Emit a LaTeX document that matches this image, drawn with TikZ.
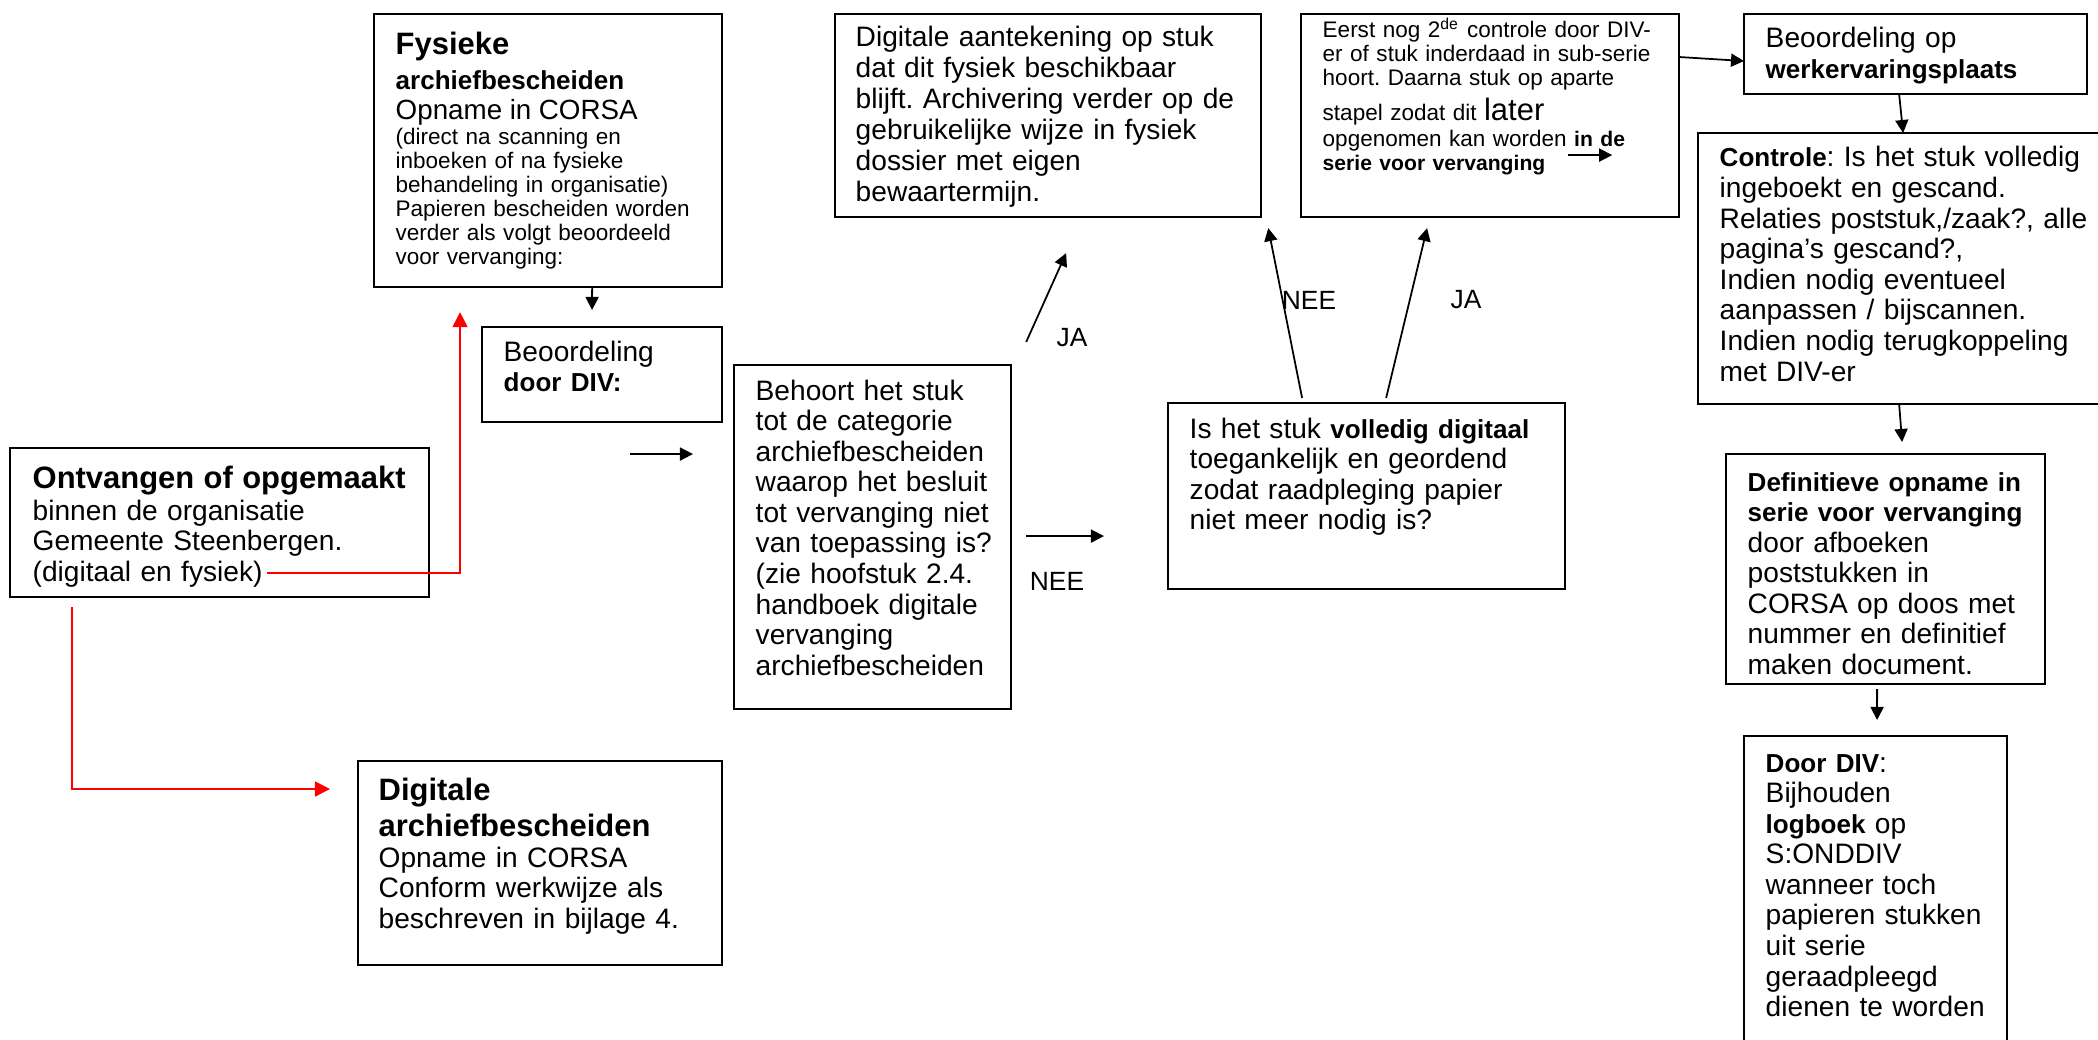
\documentclass[tikz,border=0pt]{standalone}
\usepackage{fontspec}
\setmainfont{Liberation Sans}
\usetikzlibrary{arrows.meta}
\lineskiplimit=-20pt
\frenchspacing
\newcommand{\vet}[1]{{\fontsize{7.4pt}{8pt}\selectfont\bfseries #1}}

\begin{document}
\begin{tikzpicture}[
    x=0.01cm, y=-0.01cm,
    kader/.style={draw, line width=0.55pt, anchor=north west, inner sep=0pt, outer sep=0pt},
    tekst/.style={anchor=base west, align=left, text width=4.5cm, inner sep=0pt, font=\fontsize{8pt}{8.7pt}\selectfont},
    kleintekst/.style={tekst, font=\fontsize{6.4pt}{6.8pt}\selectfont},
    keuze/.style={font=\fontsize{7.5pt}{8pt}\selectfont},
    pijl/.style={line width=0.5pt, -{Triangle[length=0.13cm, width=0.13cm]}},
    rood/.style={red, line width=0.5pt, -{Triangle[length=0.15cm, width=0.15cm]}}
]
\useasboundingbox (0,0) rectangle (2098,1040);

% Kaders
\node[kader, minimum width=3.48cm, minimum height=2.73cm] (fysiek) at (374,14) {};
\node[kader, minimum width=2.40cm, minimum height=0.95cm] (beoord) at (482,327) {};
\node[kader, minimum width=2.77cm, minimum height=3.44cm] (behoort) at (734,365) {};
\node[kader, minimum width=4.26cm, minimum height=2.03cm] (aantek) at (835,14) {};
\node[kader, minimum width=3.78cm, minimum height=2.03cm] (eerst) at (1301,14) {};
\node[kader, minimum width=3.43cm, minimum height=0.80cm] (werkerv) at (1744,14) {};
\node[kader, minimum width=4.12cm, minimum height=2.71cm] (controle) at (1698,133) {};
\node[kader, minimum width=3.97cm, minimum height=1.86cm] (volledig) at (1168,403) {};
\node[kader, minimum width=4.19cm, minimum height=1.49cm] (ontvangen) at (10,448) {};
\node[kader, minimum width=3.19cm, minimum height=2.30cm] (definitief) at (1726,454) {};
\node[kader, minimum width=2.63cm, minimum height=3.20cm] (doordiv) at (1744,736) {};
\node[kader, minimum width=3.64cm, minimum height=2.04cm] (digitaal) at (358,761) {};

% Teksten
\node[kleintekst] (fysiektekst) at ([shift={(21,41)}]fysiek.north west)
    {{\fontsize{8.8pt}{9pt}\selectfont\bfseries Fysieke}\\[0.06cm]
     \vet{archiefbescheiden}\\[0.06cm]
     {\fontsize{7.9pt}{8pt}\selectfont Opname in CORSA}\\[0.01cm]
     (direct na scanning en\\
     inboeken of na fysieke\\
     behandeling in organisatie)\\
     Papieren bescheiden worden\\
     verder als volgt beoordeeld\\
     voor vervanging:};
\node[tekst] (beoordtekst) at ([shift={(21,34)}]beoord.north west)
    {Beoordeling\\\vet{door DIV:}};
\node[tekst] (behoorttekst) at ([shift={(21,35)}]behoort.north west)
    {Behoort het stuk\\tot de categorie\\archiefbescheiden\\waarop het besluit\\tot vervanging niet\\
     van toepassing is?\\(zie hoofstuk 2.4.\\handboek digitale\\vervanging\\archiefbescheiden};
\node[tekst, font=\fontsize{8pt}{8.8pt}\selectfont] (aantektekst) at ([shift={(20,33)}]aantek.north west)
    {Digitale aantekening op stuk\\dat dit fysiek beschikbaar\\blijft. Archivering verder op de\\
     gebruikelijke wijze in fysiek\\dossier met eigen\\bewaartermijn.};
\node[kleintekst] (eersttekst) at ([shift={(21,24)}]eerst.north west)
    {Eerst nog 2\textsuperscript{de} controle door DIV-\\
     er of stuk inderdaad in sub-serie\\
     hoort. Daarna stuk op aparte\\[0.04cm]
     stapel zodat dit {\fontsize{8.8pt}{9pt}\selectfont later}\\[0.02cm]
     opgenomen kan worden {\fontsize{6pt}{6.8pt}\selectfont\bfseries in de}\\
     {\fontsize{6pt}{6.8pt}\selectfont\bfseries serie voor vervanging}};
\node[tekst] (werkervtekst) at ([shift={(21,34)}]werkerv.north west)
    {Beoordeling op\\\vet{werkervaringsplaats}};
\node[tekst] (controletekst) at ([shift={(21,34)}]controle.north west)
    {\vet{Controle}: Is het stuk volledig\\ingeboekt en gescand.\\Relaties poststuk,/zaak?, alle\\
     pagina’s gescand?,\\Indien nodig eventueel\\aanpassen / bijscannen.\\
     Indien nodig terugkoppeling\\met DIV-er};
\node[tekst] (volledigtekst) at ([shift={(21,35)}]volledig.north west)
    {Is het stuk \vet{volledig digitaal}\\toegankelijk en geordend\\zodat raadpleging papier\\niet meer nodig is?};
\node[tekst] (ontvangentekst) at ([shift={(22,40)}]ontvangen.north west)
    {{\fontsize{8.8pt}{9pt}\selectfont\bfseries Ontvangen of opgemaakt}\\[0.015cm]
     binnen de organisatie\\Gemeente Steenbergen.\\(digitaal en fysiek)};
\node[tekst] (definitieftekst) at ([shift={(21,37)}]definitief.north west)
    {\vet{Definitieve opname in}\\\vet{serie voor vervanging}\\door afboeken\\poststukken in\\
     CORSA op doos met\\nummer en definitief\\maken document.};
\node[tekst] (doordivtekst) at ([shift={(21,36)}]doordiv.north west)
    {\vet{Door DIV}:\\Bijhouden\\\vet{logboek} op\\S:ONDDIV\\wanneer toch\\papieren stukken\\
     uit serie\\geraadpleegd\\dienen te worden};
\node[tekst] (digitaaltekst) at ([shift={(20,39)}]digitaal.north west)
    {{\fontsize{8.8pt}{9pt}\selectfont\bfseries Digitale}\\[0.06cm]
     {\fontsize{8.8pt}{9pt}\selectfont\bfseries archiefbescheiden}\\
     Opname in CORSA\\Conform werkwijze als\\beschreven in bijlage 4.};

% Keuzes
\node[keuze] (ja1) at (1072,338) {JA};
\node[keuze] (nee1) at (1057,581) {NEE};
\node[keuze] (nee2) at (1309,300) {NEE};
\node[keuze] (ja2) at (1466,300) {JA};

% Rode lijnen
\draw[rood] ([xshift=2.57cm, yshift=-1.25cm]ontvangen.north west) -| ([xshift=0.86cm, yshift=-0.25cm]fysiek.south west);
\draw[rood] ([xshift=0.62cm, yshift=-0.10cm]ontvangen.south west) |- ([xshift=-0.28cm, yshift=-0.28cm]digitaal.north west);

% Pijlen
\draw[pijl] ([xshift=-1.30cm]fysiek.south east) -- ([xshift=1.10cm, yshift=0.17cm]beoord.north west);
\draw[pijl] ([xshift=1.48cm, yshift=-0.32cm]beoord.south west) -- ([xshift=-0.41cm, yshift=-0.89cm]behoort.north west);
\draw[pijl] ([xshift=0.15cm, yshift=0.23cm]behoort.north east) -- ([xshift=2.31cm, yshift=-0.36cm]aantek.south west);
\draw[pijl] ([xshift=0.15cm, yshift=-1.71cm]behoort.north east) -- ([xshift=-0.64cm, yshift=-1.33cm]volledig.north west);
\draw[pijl] ([xshift=1.34cm, yshift=0.05cm]volledig.north west) -- ([xshift=0.07cm, yshift=-0.11cm]aantek.south east);
\draw[pijl] ([xshift=2.18cm, yshift=0.05cm]volledig.north west) -- ([xshift=1.26cm, yshift=-0.11cm]eerst.south west);
\draw[pijl] ([yshift=-0.43cm]eerst.north east) -- ([yshift=-0.47cm]werkerv.north west);
\draw[pijl] ([xshift=2.67cm, yshift=-1.41cm]eerst.north west) -- ([xshift=-0.67cm, yshift=-1.41cm]eerst.north east);
\draw[pijl] ([xshift=1.55cm]werkerv.south west) -- ([xshift=2.05cm]controle.north west);
\draw[pijl] ([xshift=2.01cm]controle.south west) -- ([xshift=1.76cm, yshift=0.12cm]definitief.north west);
\draw[pijl] ([xshift=1.51cm, yshift=-0.05cm]definitief.south west) -- ([xshift=1.33cm, yshift=0.16cm]doordiv.north west);

\end{tikzpicture}
\end{document}
